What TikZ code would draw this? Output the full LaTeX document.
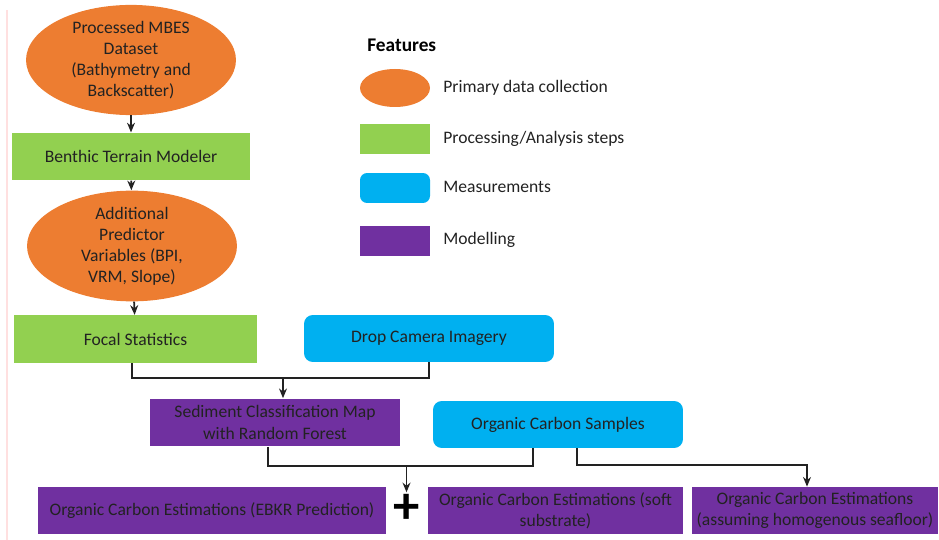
\documentclass[tikz,border=0pt]{standalone}
\usepackage{fontspec}
\setmainfont{Carlito}
\usetikzlibrary{shapes.geometric,arrows.meta}

\definecolor{dataorange}{HTML}{ED7D31}
\definecolor{procgreen}{HTML}{92D050}
\definecolor{measblue}{HTML}{00B0F0}
\definecolor{modpurple}{HTML}{7030A0}
\definecolor{inkgray}{HTML}{222222}

\begin{document}
\begin{tikzpicture}[x=0.02cm, y=-0.02cm, >={Stealth[length=5.5pt,width=4.5pt]},
  every node/.style={font=\fontsize{10}{12}\selectfont, text=inkgray, align=center, inner sep=0pt},
  datanode/.style={ellipse, fill=dataorange, minimum width=4.2cm, minimum height=1.95cm},
  procnode/.style={rectangle, fill=procgreen, minimum height=0.95cm},
  measnode/.style={rectangle, rounded corners=5pt, fill=measblue, minimum width=5cm, minimum height=0.94cm},
  modnode/.style={rectangle, fill=modpurple, minimum height=0.96cm},
  flow/.style={line width=1pt, inkgray}]
  \useasboundingbox (0,0) rectangle (939,540);
  \draw[red!12, line width=0.6pt] (7,10) -- (7,540);

  % Main chain
  \node[datanode] (mbes) at (131,60) {Processed MBES\\Dataset\\(Bathymetry and\\Backscatter)};
  \node[procnode, minimum width=4.76cm] (btm) at (131,156.5) {Benthic Terrain Modeler};
  \node[datanode] (apv) at (132,246) {Additional\\Predictor\\Variables (BPI,\\VRM, Slope)};
  \node[procnode, minimum width=4.86cm] (focal) at (135.5,339) {Focal Statistics};
  \node[measnode] (drop) at (429,338.5) {Drop Camera Imagery};
  \node[modnode, minimum width=5cm] (sed) at (275,422.5) {Sediment Classification Map\\with Random Forest};
  \node[measnode] (ocs) at (558,424.5) {Organic Carbon Samples};

  % Estimations
  \node[modnode, minimum width=6.96cm, minimum height=0.94cm] (ebkr) at (212,510.5) {Organic Carbon Estimations (EBKR Prediction)};
  \node[font=\fontsize{30}{30}\selectfont\bfseries, text=black, inner sep=1pt] (plus) at (406.5,509) {+};
  \node[modnode, minimum width=5.1cm, minimum height=0.94cm] (soft) at (555.5,510.5) {Organic Carbon Estimations (soft\\substrate)};
  \node[modnode, minimum width=4.92cm, minimum height=0.94cm] (homog) at (815,510.5) {Organic Carbon Estimations\\(assuming homogenous seafloor)};

  % Connectors
  \draw[flow,->] (mbes) -- (btm);
  \draw[flow,->] (btm) -- (apv);
  \draw[flow,->] (apv) -- (focal);

  \coordinate (j1) at (283,378);
  \draw[flow] (focal.south -| 132,0) |- (j1) -| (drop.south);
  \draw[flow,->] (j1) -- (j1 |- sed.north);

  \coordinate (j2) at (406.5,466);
  \draw[flow] (sed.south -| 268,0) |- (j2) -| (ocs.south -| 533,0);
  \draw[flow,->] (j2) -- (plus);

  \coordinate (j3) at (577,465);
  \draw[flow,->] (ocs.south -| j3) -- (j3) -| (homog.north -| 807,0);

  % Legend
  \node[anchor=west, font=\fontsize{11}{13}\selectfont\bfseries, text=black] (feat) at (367,45) {Features};
  \node[ellipse, fill=dataorange, minimum width=1.4cm, minimum height=0.76cm] (lg1) at (395,88) {};
  \node[fill=procgreen, minimum width=1.4cm, minimum height=0.6cm] (lg2) at (395,139) {};
  \node[fill=measblue, rounded corners=4pt, minimum width=1.4cm, minimum height=0.6cm] (lg3) at (395,188) {};
  \node[fill=modpurple, minimum width=1.4cm, minimum height=0.6cm] (lg4) at (395,241) {};
  \node[anchor=west] (lt1) at (443,88) {Primary data collection};
  \node[anchor=west] (lt2) at (443,139) {Processing/Analysis steps};
  \node[anchor=west] (lt3) at (443,187) {Measurements};
  \node[anchor=west] (lt4) at (443,240) {Modelling};
\end{tikzpicture}
\end{document}
